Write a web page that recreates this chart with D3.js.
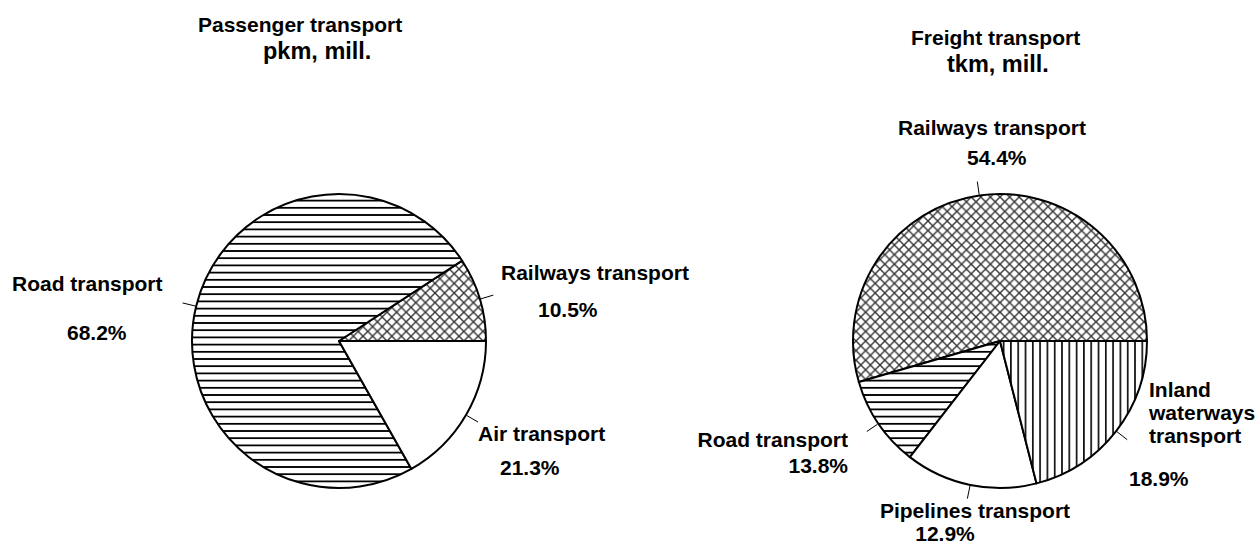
<!DOCTYPE html>
<html>
<head>
<meta charset="utf-8">
<script src="https://cdn.jsdelivr.net/npm/d3@7"></script>
<style>
  body { margin: 0; background: #fff; }
  text { font-family: Arial, "Liberation Sans", sans-serif; font-weight: bold; fill: #000; }
</style>
</head>
<body>
<svg width="1260" height="545"></svg>
<script>
const passengerCategories = ['Railways transport', 'Road transport', 'Air transport'];
const passengerShares = [9.2, 74.0, 16.8];
const passengerLabels = ['10.5%', '68.2%', '21.3%'];
const passengerFills = ['cross', 'hlines', 'none'];

// Freight transport (tkm, mill.)
const freightCategories = ['Railways transport', 'Road transport', 'Pipelines transport', 'Inland waterways transport'];
const freightShares = [54.5, 10.0, 14.5, 21.0];
const freightLabels = ['54.4%', '13.8%', '12.9%', '18.9%'];
const freightFills = ['cross', 'hlines', 'none', 'vlines'];

// layout only: pie placement and where each label sits
const passengerLayout = {
    title: ['Passenger transport', 'pkm, mill.'], tx: [198, 263], ty: [32, 59],
    cx: 339, cy: 341, r: 147,
    labels: [
        {x: 501, y: 280, anchor: 'start', px: 538, py: 317, panchor: 'start'},
        {x: 12, y: 291, anchor: 'start', px: 67, py: 340, panchor: 'start'},
        {x: 478, y: 441, anchor: 'start', px: 500, py: 475, panchor: 'start'}
    ]
};
const freightLayout = {
    title: ['Freight transport', 'tkm, mill.'], tx: [911, 947], ty: [45, 72],
    cx: 1000, cy: 341, r: 147,
    labels: [
        {x: 898, y: 135, anchor: 'start', px: 967, py: 165, panchor: 'start'},
        {x: 848, y: 447, anchor: 'end', px: 848, py: 473, panchor: 'end'},
        {x: 975, y: 518, anchor: 'middle', px: 945, py: 541, panchor: 'middle'},
        {x: 1149, y: 397, anchor: 'start', px: 1129, py: 486, panchor: 'start', wrap: true}
    ]
};

const svg = d3.select('svg');

definePatterns();
drawPie(passengerCategories, passengerShares, passengerLabels, passengerFills, passengerLayout);
drawPie(freightCategories, freightShares, freightLabels, freightFills, freightLayout);

function definePatterns() {
    let defs = svg.append('defs');

    let h = defs.append('pattern').attr('id', 'hlines')
        .attr('patternUnits', 'userSpaceOnUse').attr('width', 8).attr('height', 7.2);
    h.append('rect').attr('width', 8).attr('height', 7.2).attr('fill', '#fff');
    h.append('line').attr('x1', 0).attr('x2', 8).attr('y1', 3.6).attr('y2', 3.6)
        .attr('stroke', '#000').attr('stroke-width', 1.8);

    let v = defs.append('pattern').attr('id', 'vlines')
        .attr('patternUnits', 'userSpaceOnUse').attr('width', 7.3).attr('height', 8);
    v.append('rect').attr('width', 7.3).attr('height', 8).attr('fill', '#fff');
    v.append('line').attr('y1', 0).attr('y2', 8).attr('x1', 3.6).attr('x2', 3.6)
        .attr('stroke', '#000').attr('stroke-width', 1.6);

    let s = 9.6;
    let c = defs.append('pattern').attr('id', 'cross')
        .attr('patternUnits', 'userSpaceOnUse').attr('width', s).attr('height', s);
    c.append('rect').attr('width', s).attr('height', s).attr('fill', '#fff');
    c.append('path').attr('d', `M0,0L${s},${s}M${s},0L0,${s}`)
        .attr('stroke', '#333').attr('stroke-width', 1.4);
}

function drawPie(categories, shares, labels, fills, layout) {
    let data = categories.map((c, i) => ({name: c, share: shares[i], label: labels[i], fill: fills[i]}));
    // first slice starts at 3 o'clock, slices run counter-clockwise
    let arcs = d3.pie().sort(null).value(d => d.share)
        .startAngle(Math.PI / 2).endAngle(Math.PI / 2 - 2 * Math.PI)(data);
    let arc = d3.arc().innerRadius(0).outerRadius(layout.r);

    let g = svg.append('g');

    g.selectAll('text.title').data(layout.title)
        .enter().append('text').attr('class', 'title')
        .attr('x', (d, i) => layout.tx[i])
        .attr('y', (d, i) => layout.ty[i])
        .attr('font-size', (d, i) => i === 0 ? 21 : 23.5)
        .text(d => d);

    let pie = g.append('g').attr('transform', `translate(${layout.cx},${layout.cy})`);
    pie.selectAll('path').data(arcs)
        .enter().append('path')
        .attr('d', arc)
        .attr('fill', d => d.data.fill === 'none' ? '#fff' : `url(#${d.data.fill})`)
        .attr('stroke', '#000')
        .attr('stroke-width', 2)
        .attr('stroke-linejoin', 'round');

    // short leader ticks at each slice's middle angle
    let mid = d => (d.startAngle + d.endAngle) / 2;
    pie.selectAll('line').data(arcs)
        .enter().append('line')
        .attr('stroke', '#000').attr('stroke-width', 1)
        .attr('x1', d => Math.sin(mid(d)) * (layout.r + 1))
        .attr('y1', d => -Math.cos(mid(d)) * (layout.r + 1))
        .attr('x2', d => Math.sin(mid(d)) * (layout.r + 14))
        .attr('y2', d => -Math.cos(mid(d)) * (layout.r + 14));

    data.forEach((d, i) => {
        let l = layout.labels[i];
        let lines = l.wrap ? d.name.split(' ') : [d.name];
        let t = g.append('text').attr('font-size', 21).attr('text-anchor', l.anchor);
        lines.forEach((line, j) => {
            t.append('tspan').attr('x', l.x).attr('y', l.y + j * 23).text(line);
        });
        g.append('text').attr('font-size', 21).attr('text-anchor', l.panchor)
            .attr('x', l.px).attr('y', l.py).text(d.label);
    });
}
</script>
</body>
</html>
